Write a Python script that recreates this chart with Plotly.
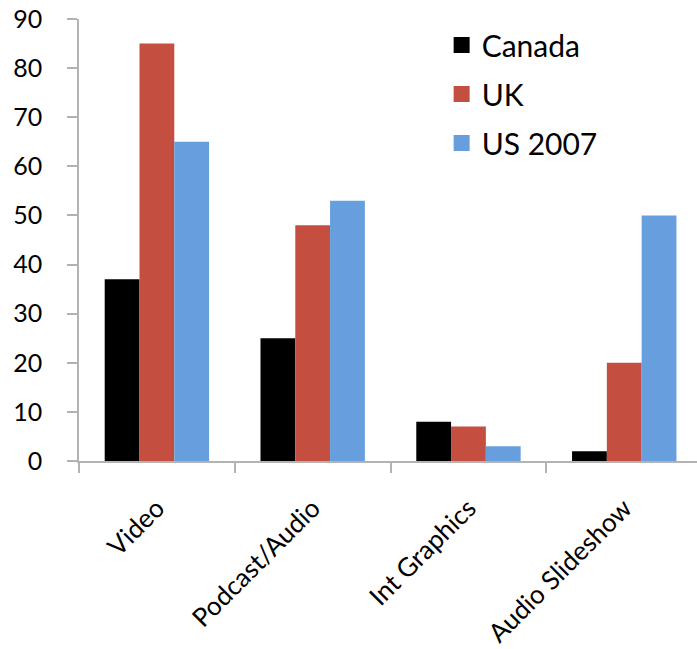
import plotly.graph_objects as go

categories = ["Video", "Podcast/Audio", "Int Graphics", "Audio Slideshow"]
series_names = ["Canada", "UK", "US 2007"]
canada = [37, 25, 8, 2]
uk = [85, 48, 7, 20]
us2007 = [65, 53, 3, 50]
y_ticks = [0, 10, 20, 30, 40, 50, 60, 70, 80, 90]

colors = ["#000000", "#c44f41", "#669ede"]
values = [canada, uk, us2007]

FONT = "Lato, Open Sans, sans-serif"

fig = go.Figure()
for name, vals, col in zip(series_names, values, colors):
    fig.add_trace(go.Bar(
        x=categories, y=vals, name=name, marker_color=col,
        marker_line_width=0, showlegend=False,
    ))
# legend entries with larger square symbols
for i, (name, col) in enumerate(zip(series_names, colors)):
    fig.add_trace(go.Scatter(
        x=[None], y=[None], mode="markers", name=name,
        marker=dict(symbol="square", size=16, color=col),
        legendgroup=f"g{i}", showlegend=True,
    ))

fig.update_layout(
    width=697, height=649,
    margin=dict(l=79, r=0, t=19, b=188),
    paper_bgcolor="white", plot_bgcolor="white",
    barmode="group", bargap=0.33, bargroupgap=0,
    font=dict(family=FONT, color="#000000", size=24),
    legend=dict(
        x=409 / 697, xanchor="left", y=1.0, yanchor="top",
        xref="paper", yref="paper",
        font=dict(size=30, family=FONT),
        traceorder="grouped", tracegroupgap=7,
        bgcolor="rgba(0,0,0,0)", itemwidth=30,
    ),
)
fig.update_xaxes(
    type="category", range=[-0.5, 3.467], automargin=False,
    showline=True, linecolor="#b3b3b3", linewidth=1.5,
    ticks="outside", tickson="boundaries", ticklen=10, tickcolor="#b3b3b3", tickwidth=1.5,
    tickangle=-45, showgrid=False, ticklabelstandoff=20,
    tickfont=dict(size=26, family=FONT),
)
fig.update_yaxes(
    range=[0, 90], tickvals=y_ticks, automargin=False,
    showline=True, linecolor="#b3b3b3", linewidth=1.5,
    ticks="outside", ticklen=10, tickcolor="#b3b3b3", tickwidth=1.5,
    showgrid=False, zeroline=False, ticklabelstandoff=20,
    tickfont=dict(size=25, family=FONT),
)

fig.write_html("out.html")
